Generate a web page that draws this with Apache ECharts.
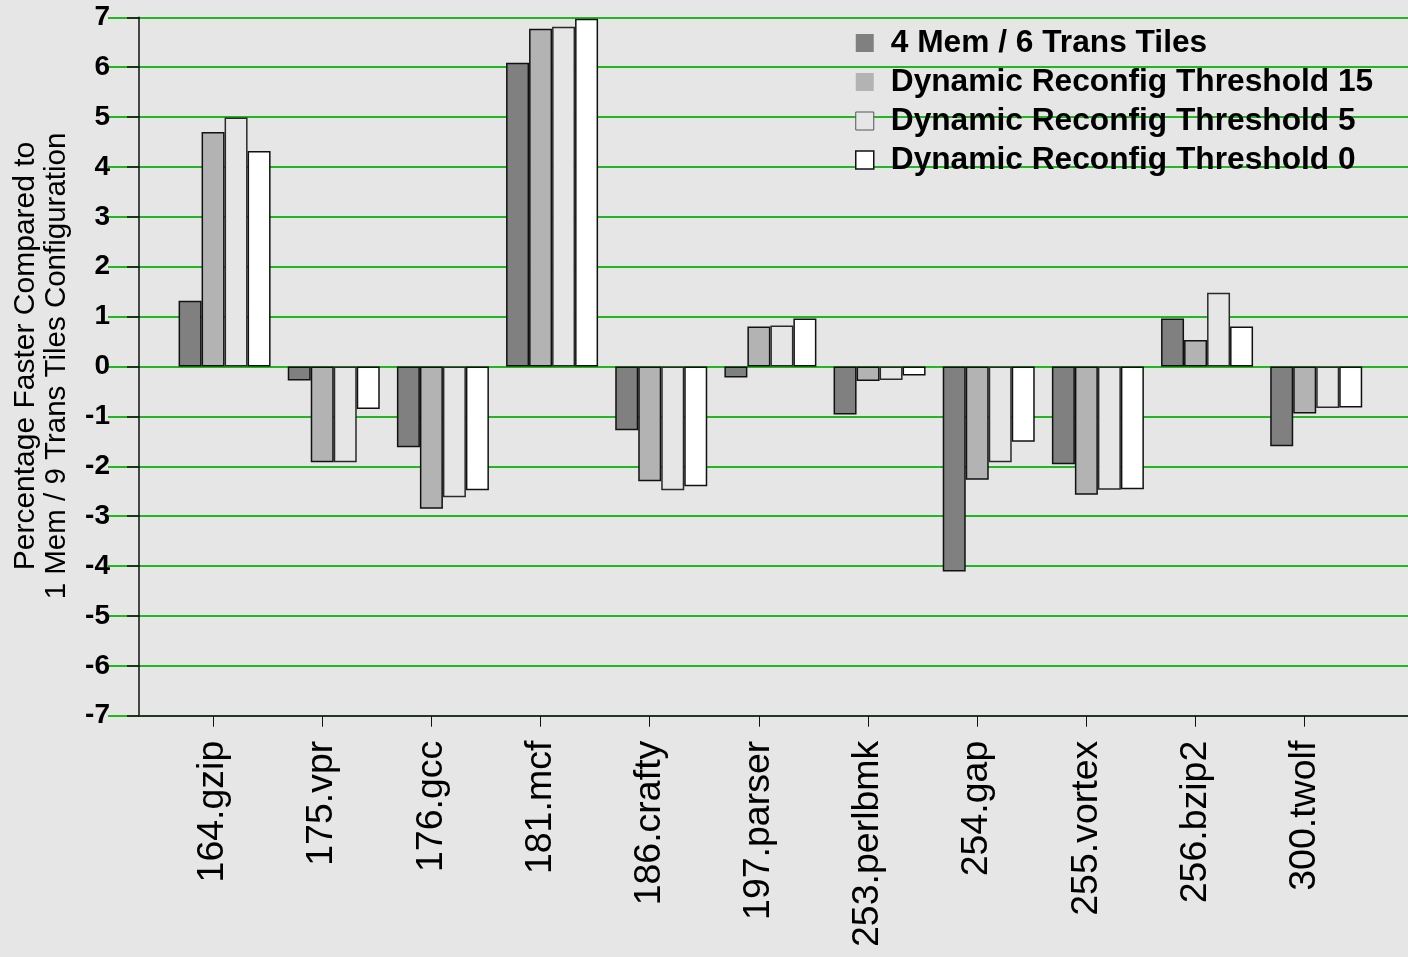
<!DOCTYPE html>
<html>
<head>
<meta charset="utf-8">
<title>Percentage faster vs 1 Mem / 9 Trans Tiles</title>
<script src="https://cdn.jsdelivr.net/npm/echarts@6/dist/echarts.min.js"></script>
<style>
  html, body { margin: 0; padding: 0; background: #e6e6e6; }
  #chart { width: 1408px; height: 957px; }
</style>
</head>
<body>
<div id="chart"></div>
<script>
// Benchmarks on the x axis
const categories = ['164.gzip', '175.vpr', '176.gcc', '181.mcf', '186.crafty', '197.parser',
  '253.perlbmk', '254.gap', '255.vortex', '256.bzip2', '300.twolf'];

// Series names
const seriesNames = ['4 Mem / 6 Trans Tiles', 'Dynamic Reconfig Threshold 15',
  'Dynamic Reconfig Threshold 5', 'Dynamic Reconfig Threshold 0'];

// Percentage faster than the 1 Mem / 9 Trans Tiles configuration
const mem4Trans6 = [1.32, -0.28, -1.62, 6.09, -1.28, -0.22, -0.96, -4.11, -1.96, 0.96, -1.60];
const threshold15 = [4.70, -1.92, -2.85, 6.77, -2.30, 0.80, -0.29, -2.27, -2.57, 0.53, -0.94];
const threshold5 = [4.99, -1.92, -2.62, 6.81, -2.48, 0.82, -0.27, -1.92, -2.47, 1.48, -0.83];
const threshold0 = [4.32, -0.85, -2.48, 6.97, -2.40, 0.96, -0.18, -1.51, -2.46, 0.80, -0.82];

// Value axis range
const yMin = -7;
const yMax = 7;
const yStep = 1;

const FONT = '"Liberation Sans", Arial, Helvetica, sans-serif';
const fills = ['#808080', '#b3b3b3', '#e6e6e6', '#ffffff'];
const borders = ['#111111', '#111111', '#2a2a2a', '#111111'];
const legendBorders = [0, 0, 1, 1.5];
const legendBorderColors = ['#808080', '#b3b3b3', '#555555', '#111111'];

const plotTop = 17.3;
const plotBottom = 241.3;

const valueAxis = (grid, extra) => Object.assign({
  type: 'value', gridIndex: grid, min: yMin, max: yMax, interval: yStep,
  axisLine: { show: false }, axisTick: { show: false }, axisLabel: { show: false },
  splitLine: { show: false }
}, extra || {});

const barSeries = [mem4Trans6, threshold15, threshold5, threshold0].map((vals, i) => ({
  name: seriesNames[i],
  type: 'bar',
  xAxisIndex: 3,
  yAxisIndex: 3,
  data: vals,
  barWidth: 23,
  barGap: '0%',
  itemStyle: { color: fills[i], borderColor: borders[i], borderWidth: 1.5 }
}));

const chart = echarts.init(document.getElementById('chart'), null, { renderer: 'canvas' });
chart.setOption({
  animation: false,
  backgroundColor: '#e6e6e6',
  textStyle: { fontFamily: FONT },
  grid: [
    { left: 108, right: 0, top: plotTop, bottom: plotBottom },          // green gridlines
    { left: 139, right: 0, top: plotTop, bottom: plotBottom },          // axis lines + value labels
    { left: 158.4, width: 1200.8, top: plotTop, bottom: plotBottom },   // category ticks + labels
    { left: 170, width: 1200.8, top: plotTop, bottom: plotBottom }      // bars
  ],
  xAxis: [
    { type: 'value', gridIndex: 0, show: false },
    { type: 'value', gridIndex: 1, min: 0, max: 1,
      axisLine: { show: true, onZero: false, lineStyle: { color: '#1d3a1d', width: 2 } },
      axisTick: { show: false }, axisLabel: { show: false }, splitLine: { show: false } },
    { type: 'category', gridIndex: 2, data: categories,
      axisLine: { show: false, onZero: false },
      axisTick: { show: true, alignWithLabel: true, length: 11, lineStyle: { color: '#111', width: 1 } },
      axisLabel: { rotate: 90, fontSize: 37.5, color: '#000', margin: 25, fontFamily: FONT } },
    { type: 'category', gridIndex: 3, data: categories, show: false }
  ],
  yAxis: [
    valueAxis(0, { splitLine: { show: true, lineStyle: { color: '#22b622', width: 2 } } }),
    valueAxis(1, {
      axisLine: { show: true, lineStyle: { color: '#111', width: 1.5 } },
      axisTick: { show: true, length: 12, lineStyle: { color: '#111', width: 1.5 } },
      axisLabel: { show: true, fontSize: 28, fontWeight: 'bold', color: '#000', margin: 29, fontFamily: FONT }
    }),
    valueAxis(2),
    valueAxis(3)
  ],
  legend: {
    orient: 'vertical',
    left: 850,
    top: 22,
    itemWidth: 18,
    itemHeight: 18,
    itemGap: 7,
    icon: 'rect',
    selectedMode: false,
    textStyle: { fontSize: 31.7, fontWeight: 'bold', color: '#000', fontFamily: FONT,
      lineHeight: 32, padding: [0, 0, 0, 12] },
    data: seriesNames.map((n, i) => ({
      name: n,
      itemStyle: { color: fills[i], borderColor: legendBorderColors[i], borderWidth: legendBorders[i] }
    }))
  },
  graphic: [
    { type: 'text', x: 26, y: 356, rotation: Math.PI / 2,
      style: { text: 'Percentage Faster Compared to', fontSize: 30, fontFamily: FONT,
        fill: '#000', align: 'center', verticalAlign: 'middle' } },
    { type: 'text', x: 57, y: 366, rotation: Math.PI / 2,
      style: { text: '1 Mem / 9 Trans Tiles Configuration', fontSize: 29.5, fontFamily: FONT,
        fill: '#000', align: 'center', verticalAlign: 'middle' } }
  ],
  series: barSeries
});
</script>
</body>
</html>
